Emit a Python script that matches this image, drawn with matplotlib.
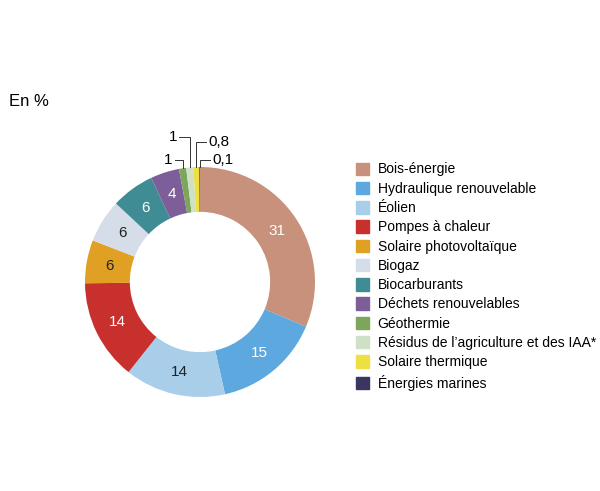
import matplotlib
matplotlib.use("Agg")
import matplotlib.pyplot as plt
import numpy as np

plt.rcParams["font.family"] = "Liberation Sans"

labels = ["Bois-énergie", "Hydraulique renouvelable", "Éolien", "Pompes à chaleur",
          "Solaire photovoltaïque", "Biogaz", "Biocarburants", "Déchets renouvelables",
          "Géothermie", "Résidus de l’agriculture et des IAA*", "Solaire thermique", "Énergies marines"]
values = [31, 15, 14, 14, 6, 6, 6, 4, 1, 1, 0.8, 0.1]
texts = ["31", "15", "14", "14", "6", "6", "6", "4", "1", "1", "0,8", "0,1"]
colors = ["#C8917B", "#5DA8DE", "#A8CEEA", "#C8302E", "#E0A024", "#D5DDE9",
          "#3F8C95", "#7E5E98", "#7BA65B", "#CFE0C5", "#EEE040", "#3B3561"]

fig = plt.figure(figsize=(6, 4.91), dpi=100)
ax = fig.add_axes([200/600 - 0.23, 1 - 282/491 - 0.23*600/491, 0.46, 0.46*600/491])
wedges, _ = ax.pie(values, colors=colors, startangle=90, counterclock=False,
                   radius=1, wedgeprops=dict(width=0.39, edgecolor="none"))
ax.set_aspect("equal")
ax.set_xlim(-1.2, 1.2); ax.set_ylim(-1.2, 1.2)
ax.axis("off")

total = sum(values)
cum = 0
for i, (v, t) in enumerate(zip(values, texts)):
    mid = 90 - (cum + v / 2) / total * 360
    cum += v
    if i < 8:
        r = 0.8
        col = "white" if i in (0, 1, 3, 6, 7) else "#222222"
        ax.text(r*np.cos(np.radians(mid)), r*np.sin(np.radians(mid)), t,
                ha="center", va="center", fontsize=11, color=col)

def leader(i, yt, xh, ha):
    c = sum(values[:i]) + values[i]/2
    a = np.radians(90 - c / total * 360)
    x0, y0 = np.cos(a)*1.0, np.sin(a)*1.0
    ax.plot([x0, x0, xh], [y0, yt, yt], color="#333333", lw=0.7, clip_on=False)
    ax.text(xh + (-0.02 if ha == "right" else 0.02), yt, texts[i], ha=ha, va="center", fontsize=11)

leader(8, 1.06, -0.22, "right")
leader(9, 1.26, -0.18, "right")
leader(10, 1.22, 0.05, "left")
leader(11, 1.06, 0.09, "left")

fig.text(9/600, 1 - 101/491, "En %", fontsize=12, va="center")

from matplotlib.patches import Patch
handles = [Patch(color=c) for c in colors]
fig.legend(handles, labels, loc="upper left", bbox_to_anchor=(343/600, 1 - 150/491),
           frameon=False, fontsize=10, handlelength=1.0, handleheight=1.0,
           labelspacing=0.38, handletextpad=0.6)
fig.savefig("out.png", dpi=100)
